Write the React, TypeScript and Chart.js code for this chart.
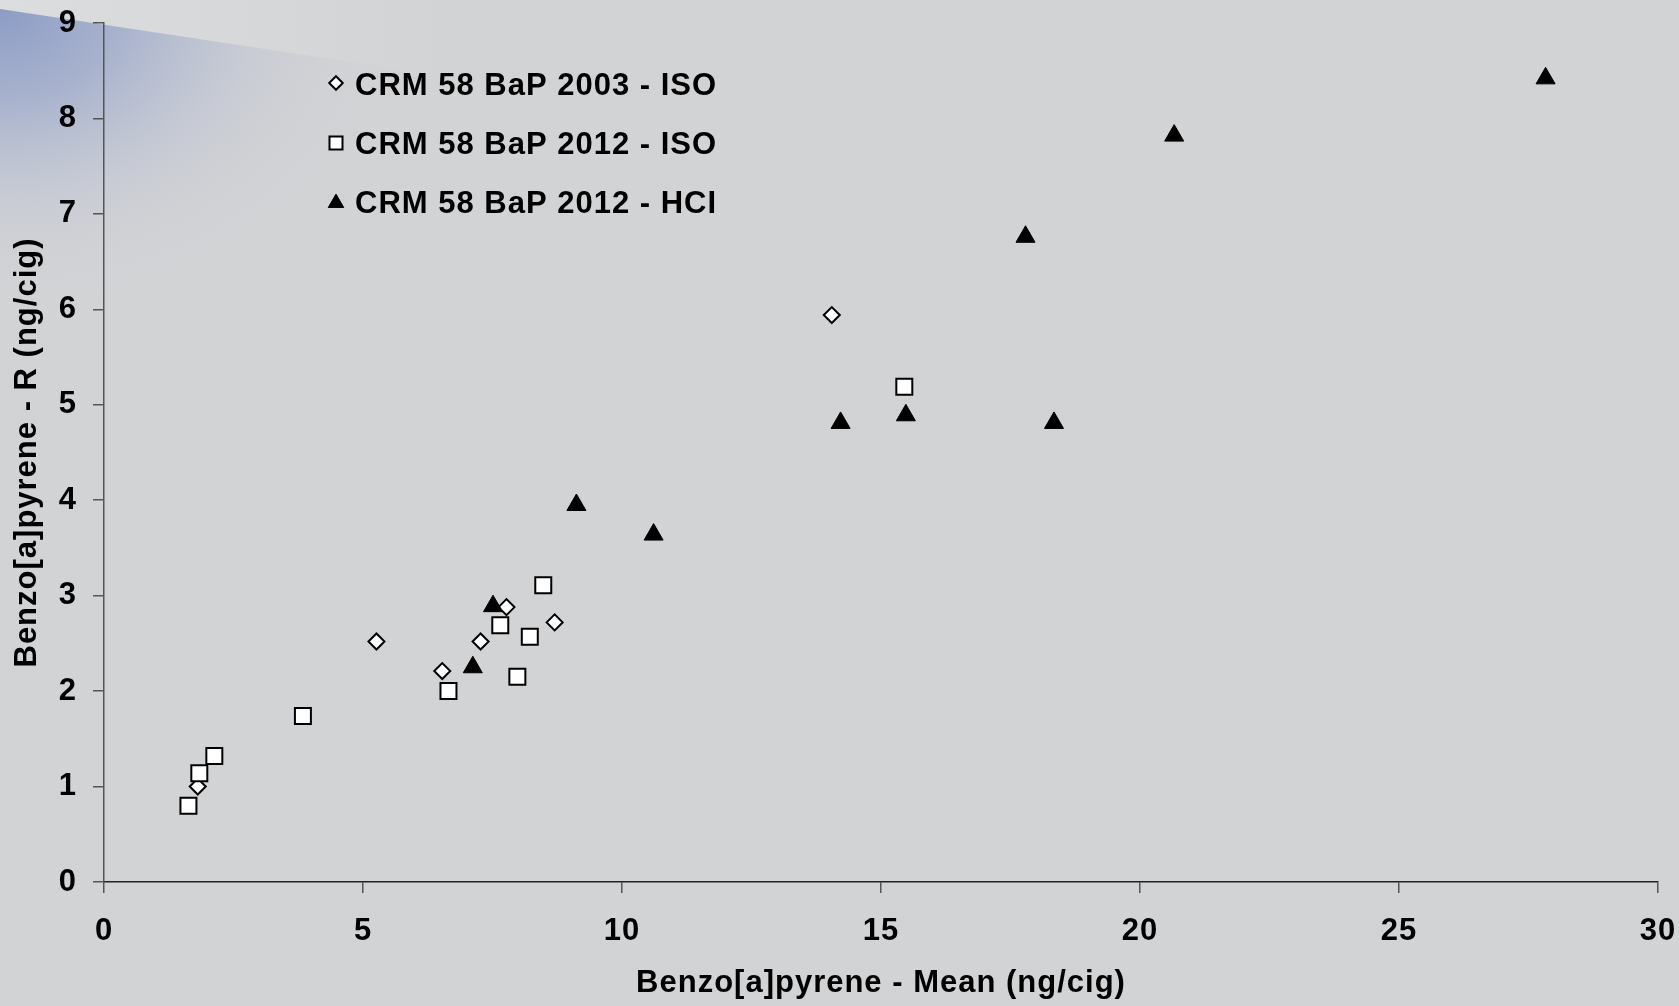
import React, { useEffect, useRef } from "react";
import { Chart, registerables } from "chart.js";
import { drawPoint } from "chart.js/helpers";

Chart.register(...registerables);

const seriesLabels = [
  "CRM 58 BaP 2003 - ISO",
  "CRM 58 BaP 2012 - ISO",
  "CRM 58 BaP 2012 - HCI",
];

const iso2003X = [1.81, 5.26, 6.53, 7.27, 7.77, 8.7, 14.05];
const iso2003Y = [1.0, 2.52, 2.21, 2.52, 2.88, 2.72, 5.94];

const iso2012X = [1.63, 1.84, 2.13, 3.84, 6.65, 7.65, 7.98, 8.22, 8.48, 15.45];
const iso2012Y = [0.8, 1.14, 1.32, 1.74, 2.0, 2.69, 2.15, 2.57, 3.11, 5.19];

const hci2012X = [7.12, 7.51, 9.12, 10.61, 14.22, 15.48, 17.79, 18.34, 20.66, 27.83];
const hci2012Y = [2.25, 2.89, 3.95, 3.64, 4.81, 4.89, 6.76, 4.81, 7.82, 8.42];

const xTitle = "Benzo[a]pyrene - Mean (ng/cig)";
const yTitle = "Benzo[a]pyrene - R (ng/cig)";

const W = 1679;
const H = 1006;
const FONT_FAMILY = '"Liberation Sans", Arial, sans-serif';
const FONT_SIZE = 31;
const LETTER_SPACING = "1px";

function toPoints(xs: number[], ys: number[]) {
  return xs.map((x, i) => ({ x, y: ys[i] }));
}

const spacingPlugin = {
  id: "spacing",
  beforeUpdate(chart: any) {
    (chart.ctx as any).letterSpacing = LETTER_SPACING;
  },
  beforeLayout(chart: any) {
    (chart.ctx as any).letterSpacing = LETTER_SPACING;
  },
  beforeDraw(chart: any) {
    (chart.ctx as any).letterSpacing = LETTER_SPACING;
  },
};

const backgroundPlugin = {
  id: "bg",
  beforeDraw(chart: any) {
    const ctx = chart.ctx as CanvasRenderingContext2D;
    ctx.save();
    ctx.fillStyle = "#d2d3d5";
    ctx.fillRect(0, 0, chart.width, chart.height);
    const slope = 0.151;
    const y0 = 9;
    ctx.save();
    ctx.beginPath();
    ctx.moveTo(0, 0);
    ctx.lineTo(chart.width, 0);
    ctx.lineTo(chart.width, y0 + slope * chart.width);
    ctx.lineTo(0, y0);
    ctx.closePath();
    ctx.clip();
    const lg = ctx.createLinearGradient(0, 0, 450, 0);
    lg.addColorStop(0, "rgba(220,221,223,1)");
    lg.addColorStop(1, "rgba(210,211,213,1)");
    ctx.fillStyle = lg;
    ctx.fillRect(0, 0, chart.width, 300);
    ctx.restore();
    ctx.save();
    ctx.beginPath();
    ctx.moveTo(0, y0);
    ctx.lineTo(chart.width, y0 + slope * chart.width);
    ctx.lineTo(chart.width, chart.height);
    ctx.lineTo(0, chart.height);
    ctx.closePath();
    ctx.clip();
    ctx.translate(0, y0);
    ctx.scale(1, 0.75);
    const rg = ctx.createRadialGradient(0, 0, 0, 0, 0, 400);
    rg.addColorStop(0, "rgba(140,156,196,1)");
    rg.addColorStop(0.3, "rgba(160,172,204,0.85)");
    rg.addColorStop(0.65, "rgba(192,197,212,0.5)");
    rg.addColorStop(1, "rgba(210,211,213,0)");
    ctx.fillStyle = rg;
    ctx.fillRect(0, 0, 600, 800);
    ctx.restore();
    ctx.restore();
  },
};

const legendPlugin = {
  id: "customLegend",
  afterDraw(chart: any) {
    const ctx = chart.ctx as CanvasRenderingContext2D;
    const markerX = 336;
    const textX = 355;
    const baselines = [95, 154, 213];
    const markerYs = [83, 143, 203];
    const radii = [6.8, 9.2, 8.9];
    chart.data.datasets.forEach((ds: any, i: number) => {
      ctx.save();
      ctx.fillStyle = ds.pointBackgroundColor;
      ctx.strokeStyle = ds.pointBorderColor;
      ctx.lineWidth = ds.pointBorderWidth;
      drawPoint(
        ctx,
        {
          pointStyle: ds.pointStyle,
          rotation: 0,
          radius: radii[i],
          borderWidth: ds.pointBorderWidth,
        } as any,
        markerX,
        markerYs[i]
      );
      (ctx as any).letterSpacing = LETTER_SPACING;
      ctx.fillStyle = "#000";
      ctx.font = `bold ${FONT_SIZE}px ${FONT_FAMILY}`;
      ctx.textAlign = "left";
      ctx.textBaseline = "alphabetic";
      ctx.fillText(ds.label, textX, baselines[i]);
      ctx.restore();
    });
  },
};

export default function App() {
  const canvasRef = useRef<HTMLCanvasElement | null>(null);

  useEffect(() => {
    const canvas = canvasRef.current;
    if (!canvas) return;
    const font = { family: FONT_FAMILY, size: FONT_SIZE, weight: "bold" as const };
    const chart = new Chart(canvas, {
      type: "scatter",
      data: {
        datasets: [
          {
            label: seriesLabels[0],
            data: toPoints(iso2003X, iso2003Y),
            pointStyle: "rectRot",
            pointRadius: 8,
            pointHoverRadius: 8,
            pointBackgroundColor: "#ffffff",
            pointBorderColor: "#000000",
            pointBorderWidth: 2,
            order: 3,
          },
          {
            label: seriesLabels[1],
            data: toPoints(iso2012X, iso2012Y),
            pointStyle: "rect",
            pointRadius: 11.3,
            pointHoverRadius: 11.3,
            pointBackgroundColor: "#ffffff",
            pointBorderColor: "#000000",
            pointBorderWidth: 2,
            order: 2,
          },
          {
            label: seriesLabels[2],
            data: toPoints(hci2012X, hci2012Y),
            pointStyle: "triangle",
            pointRadius: 11,
            pointHoverRadius: 11,
            pointBackgroundColor: "#000000",
            pointBorderColor: "#000000",
            pointBorderWidth: 1,
            order: 1,
          },
        ],
      },
      options: {
        animation: false,
        responsive: false,
        devicePixelRatio: 1,
        layout: { padding: { top: 23, right: 21, left: 0, bottom: 0 } },
        plugins: {
          legend: { display: false },
          tooltip: { enabled: false },
        },
        scales: {
          x: {
            type: "linear",
            min: 0,
            max: 30,
            ticks: { stepSize: 5, color: "#000", font, padding: 20 },
            grid: {
              drawOnChartArea: false,
              drawTicks: true,
              tickLength: 11,
              color: "#555",
              lineWidth: 1.5,
            },
            border: { display: true, color: "#222", width: 1.5 },
            title: {
              display: true,
              text: xTitle,
              color: "#000",
              font,
              padding: { top: 0, bottom: 4 },
            },
            afterFit(scale: any) {
              scale.height = 124;
              scale.paddingLeft = 0;
              scale.paddingRight = 0;
            },
          },
          y: {
            type: "linear",
            min: 0,
            max: 9,
            ticks: { stepSize: 1, color: "#000", font, padding: 16 },
            grid: {
              drawOnChartArea: false,
              drawTicks: true,
              tickLength: 11,
              color: "#555",
              lineWidth: 1.5,
            },
            border: { display: true, color: "#555", width: 1.5 },
            title: {
              display: true,
              text: yTitle,
              color: "#000",
              font,
              padding: { top: 9, bottom: 0 },
            },
            afterFit(scale: any) {
              scale.width = 104;
              scale.paddingTop = 0;
              scale.paddingBottom = 0;
            },
          },
        },
      },
      plugins: [spacingPlugin, backgroundPlugin, legendPlugin],
    });
    return () => chart.destroy();
  }, []);

  return (
    <div style={{ position: "fixed", left: 0, top: 0, width: W, height: H }}>
      <canvas ref={canvasRef} width={W} height={H} style={{ display: "block", width: W, height: H }} />
    </div>
  );
}
